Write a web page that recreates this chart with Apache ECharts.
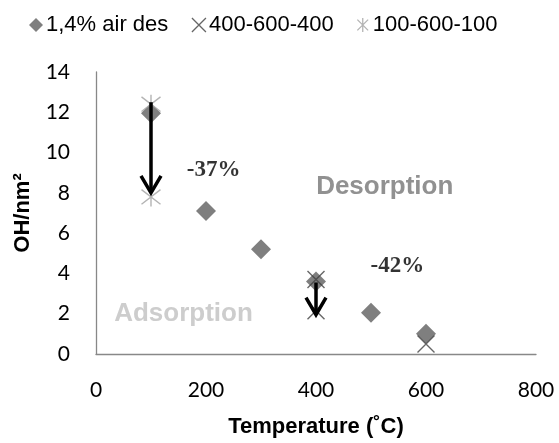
<!DOCTYPE html>
<html>
<head>
<meta charset="utf-8">
<script src="https://cdn.jsdelivr.net/npm/echarts@6/dist/echarts.min.js"></script>
<style>
  html, body { margin: 0; padding: 0; background: #fff; }
  #chart { width: 559px; height: 443px; }
</style>
</head>
<body>
<div id="chart"></div>
<script>
// OH surface density versus treatment temperature
const seriesNames = ['1,4% air des', '400-600-400', '100-600-100'];

// [temperature °C, OH/nm²]
const airDes = [[100, 11.95], [200, 7.1], [300, 5.2], [400, 3.6], [500, 2.05], [600, 1.0]];
const cycle400 = [[400, 3.7], [600, 0.5], [400, 2.15]];
const cycle100 = [[100, 12.4], [100, 7.8]];

// Arrows: [temperature, from OH, to OH]
const arrows = [[100, 12.5, 8.0], [400, 3.55, 1.95]];

// Percentage drops written next to the arrows: [temperature, OH, text]
const dropNotes = [[214, 9.15, '-37%'], [548, 4.38, '-42%']];
// Region labels: [temperature, OH, text, colour]
const regionNotes = [[525, 8.3, 'Desorption', '#767676'], [159, 1.97, 'Adsorption', '#c0c0c0']];

const xTicks = { min: 0, max: 800, interval: 200 };
const yTicks = { min: 0, max: 14, interval: 2 };

const crossPath = 'path://M0,0L10,10M10,0L0,10';
const starPath = 'path://M0,0L10,10M10,0L0,10M5,-1.5L5,11.5';

const tickFont = { fontFamily: 'Lato', fontSize: 21, color: '#000' };
const titleFont = { fontFamily: 'Liberation Sans', fontWeight: 'bold', fontSize: 22, color: '#000' };

const chart = echarts.init(document.getElementById('chart'));

function arrowItem(params, api) {
  const top = api.coord([api.value(0), api.value(1)]);
  const tip = api.coord([api.value(0), api.value(2)]);
  const hw = 10, hh = 17;
  const style = { stroke: '#000', lineWidth: 3.5, fill: null, lineJoin: 'miter' };
  return {
    type: 'group',
    children: [
      { type: 'line', shape: { x1: top[0], y1: top[1], x2: tip[0], y2: tip[1] - 2 }, style: style },
      { type: 'polyline', shape: { points: [[tip[0] - hw, tip[1] - hh], [tip[0], tip[1]], [tip[0] + hw, tip[1] - hh]] }, style: style }
    ]
  };
}

const noteData = dropNotes.map(n => ({
  value: [n[0], n[1]],
  label: {
    formatter: n[2],
    fontFamily: 'Liberation Serif', fontWeight: 'bold', fontSize: 23, color: '#000'
  }
})).concat(regionNotes.map(n => ({
  value: [n[0], n[1]],
  label: {
    formatter: n[2],
    fontFamily: 'Liberation Sans', fontWeight: 'bold', fontSize: 26, color: n[3]
  }
})));

chart.setOption({
  animation: false,
  backgroundColor: '#fff',
  grid: { left: 96, right: 23, top: 72, bottom: 88, containLabel: false },
  legend: {
    left: 24, top: 9,
    itemWidth: 14, itemHeight: 14, itemGap: 23,
    textStyle: { fontFamily: 'Liberation Sans', fontSize: 22, color: '#000', padding: [0, 0, 0, -2] },
    data: [
      { name: seriesNames[0], icon: 'diamond', itemStyle: { color: '#5f5f5f', borderWidth: 0 } },
      { name: seriesNames[1], icon: crossPath, itemStyle: { color: 'transparent', borderColor: '#404040', borderWidth: 1.3 } },
      { name: seriesNames[2], icon: starPath, itemStyle: { color: 'transparent', borderColor: '#a0a0a0', borderWidth: 1.3 } }
    ]
  },
  xAxis: {
    type: 'value', min: xTicks.min, max: xTicks.max, interval: xTicks.interval,
    name: 'Temperature (˚C)', nameLocation: 'middle', nameGap: 62,
    nameTextStyle: titleFont,
    axisLine: { show: true, lineStyle: { color: '#888', width: 1.3 } },
    axisTick: { show: false },
    splitLine: { show: false },
    axisLabel: Object.assign({ margin: 26 }, tickFont)
  },
  yAxis: {
    type: 'value', min: yTicks.min, max: yTicks.max, interval: yTicks.interval,
    name: 'OH/nm²', nameLocation: 'middle', nameGap: 62, nameRotate: 90,
    nameTextStyle: titleFont,
    axisLine: { show: true, lineStyle: { color: '#888', width: 1.3 } },
    axisTick: { show: false },
    splitLine: { show: false },
    axisLabel: Object.assign({ margin: 26 }, tickFont)
  },
  series: [
    {
      name: seriesNames[0], type: 'scatter', data: airDes,
      symbol: 'diamond', symbolSize: 20,
      itemStyle: { color: '#5f5f5f' }, z: 2
    },
    {
      name: seriesNames[1], type: 'scatter', data: cycle400,
      symbol: crossPath, symbolSize: 17,
      itemStyle: { color: 'transparent', borderColor: '#404040', borderWidth: 1.4 }, z: 3
    },
    {
      name: seriesNames[2], type: 'scatter', data: cycle100,
      symbol: starPath, symbolSize: 19,
      itemStyle: { color: 'transparent', borderColor: '#a0a0a0', borderWidth: 1.4 }, z: 4
    },
    {
      name: 'arrows', type: 'custom', data: arrows, renderItem: arrowItem,
      silent: true, z: 5
    },
    {
      name: 'notes', type: 'scatter', data: noteData,
      symbolSize: 0, silent: true, z: 6,
      label: { show: true, position: 'inside' }
    }
  ]
});
</script>
</body>
</html>
